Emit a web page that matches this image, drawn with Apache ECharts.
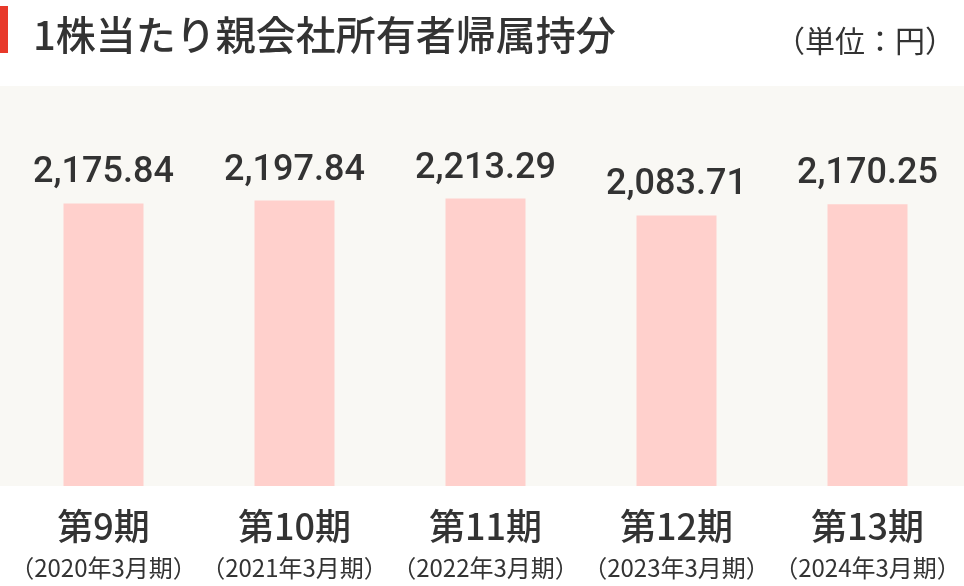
<!DOCTYPE html>
<html>
<head>
<meta charset="utf-8">
<script src="https://cdn.jsdelivr.net/npm/echarts@6/dist/echarts.min.js"></script>
<style>
html,body{margin:0;padding:0;background:#fff;}
#c{width:964px;height:586px;}
</style>
</head>
<body>
<div id="c"></div>
<script>
var periods = ['第9期', '第10期', '第11期', '第12期', '第13期'];
var fiscalYears = ['（2020年3月期）', '（2021年3月期）', '（2022年3月期）', '（2023年3月期）', '（2024年3月期）'];
var values = [2175.84, 2197.84, 2213.29, 2083.71, 2170.25];
var titleText = '1株当たり親会社所有者帰属持分';
var unitText = '（単位：円）';

var categories = periods.map(function (p, i) { return p + '\n' + fiscalYears[i]; });
var cjk = '"Noto Sans CJK JP", "Noto Sans", sans-serif';

var chart = echarts.init(document.getElementById('c'), null, {renderer: 'canvas'});
chart.setOption({
  backgroundColor: '#ffffff',
  animation: false,
  title: [
    {text: titleText, left: 28, top: 9,
     textStyle: {fontFamily: cjk, fontSize: 40, fontWeight: 500, color: '#333333', lineHeight: 42}},
    {text: unitText, right: 4, top: 20,
     textStyle: {fontFamily: cjk, fontSize: 30, fontWeight: 400, color: '#333333', lineHeight: 32}}
  ],
  graphic: [
    {type: 'rect', silent: true, z: -10, shape: {x: 0, y: 86, width: 964, height: 400}, style: {fill: '#f9f8f4'}},
    {type: 'rect', silent: true, shape: {x: 0, y: 6, width: 8, height: 47}, style: {fill: '#e8392a'}}
  ],
  grid: {left: 8, right: 1, top: 86, bottom: 100, containLabel: false},
  xAxis: {
    type: 'category',
    data: categories,
    axisLine: {show: false},
    axisTick: {show: false},
    splitLine: {show: false},
    axisLabel: {
      margin: 18,
      interval: 0,
      formatter: function (v) {
        var parts = v.split('\n');
        return '{a|' + parts[0] + '}\n{b|' + parts[1] + '}';
      },
      rich: {
        a: {fontFamily: cjk, fontSize: 36, fontWeight: 500, color: '#333333', lineHeight: 44, align: 'center'},
        b: {fontFamily: cjk, fontSize: 24, fontWeight: 400, color: '#333333', lineHeight: 40, align: 'center'}
      }
    }
  },
  yAxis: {
    type: 'value',
    min: 0,
    max: 3080,
    show: false,
    splitLine: {show: false}
  },
  series: [{
    type: 'bar',
    data: values,
    barWidth: 80,
    itemStyle: {color: '#ffd0cc'},
    label: {
      show: true,
      position: 'top',
      distance: 12,
      fontFamily: 'Roboto, sans-serif',
      fontSize: 36,
      fontWeight: 500,
      color: '#333333',
      formatter: function (p) {
        return p.value.toLocaleString('en-US', {minimumFractionDigits: 2, maximumFractionDigits: 2});
      }
    }
  }]
});
</script>
</body>
</html>
